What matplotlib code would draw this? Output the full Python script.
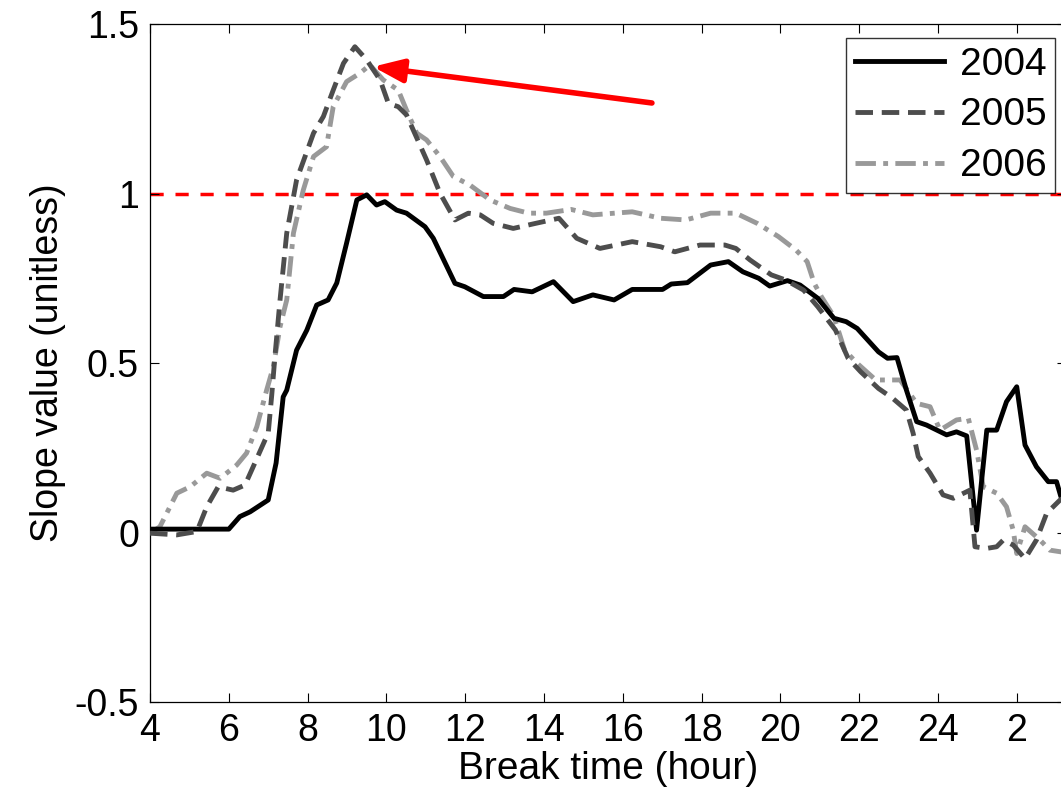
import matplotlib
matplotlib.use('Agg')
import matplotlib.pyplot as plt

plt.rcParams['font.family'] = ['Liberation Sans', 'DejaVu Sans']

# 2004 slope curve (hour, value)
x2004 = [4.0, 6.0, 6.28, 6.54, 7.0, 7.2, 7.38, 7.47, 7.72, 7.98, 8.23, 8.52, 8.74, 8.99, 9.25,
         9.50, 9.75, 9.96, 10.26, 10.51, 10.98, 11.19, 11.74, 11.99, 12.46, 12.97, 13.24, 13.70,
         14.24, 14.74, 15.24, 15.78, 16.24, 17.01, 17.23, 17.64, 18.23, 18.68, 19.05, 19.45,
         19.73, 20.18, 20.50, 20.95, 21.36, 21.67, 21.95, 22.49, 22.72, 22.96, 23.20, 23.46,
         23.71, 24.22, 24.47, 24.73, 24.98, 25.24, 25.49, 25.74, 26.0, 26.21, 26.50, 26.80,
         27.01, 27.12, 27.3]
y2004 = [0.01, 0.01, 0.047, 0.061, 0.096, 0.205, 0.40, 0.42, 0.538, 0.597, 0.671, 0.686, 0.736,
         0.854, 0.981, 0.996, 0.966, 0.976, 0.951, 0.942, 0.902, 0.868, 0.735, 0.725, 0.696,
         0.696, 0.717, 0.710, 0.740, 0.681, 0.701, 0.686, 0.717, 0.717, 0.733, 0.737, 0.789,
         0.799, 0.769, 0.750, 0.727, 0.743, 0.730, 0.691, 0.632, 0.622, 0.602, 0.533, 0.514,
         0.516, 0.420, 0.327, 0.317, 0.288, 0.297, 0.285, 0.007, 0.302, 0.302, 0.386, 0.430,
         0.258, 0.194, 0.150, 0.150, 0.106, 0.08]

# 2005 slope curve
x2005 = [4.0, 4.68, 5.19, 5.44, 5.73, 6.11, 6.41, 6.58, 6.92, 7.0, 7.09, 7.17, 7.30, 7.47, 7.72,
         8.15, 8.40, 8.65, 8.91, 9.20, 9.50, 9.84, 10.05, 10.30, 10.51, 11.02, 11.36, 11.74,
         12.08, 12.38, 12.71, 13.22, 13.79, 14.38, 14.83, 15.42, 16.24, 16.96, 17.32, 17.96,
         18.59, 18.87, 19.23, 19.77, 20.13, 20.59, 20.95, 21.40, 21.72, 22.04, 22.49, 22.85,
         23.20, 23.37, 23.50, 23.80, 24.13, 24.39, 24.81, 24.94, 25.23, 25.49, 25.66, 25.91,
         26.21, 26.50, 26.76, 27.10, 27.3]
y2005 = [-0.002, -0.007, 0.003, 0.076, 0.135, 0.125, 0.140, 0.184, 0.273, 0.293, 0.406, 0.519,
         0.686, 0.883, 1.040, 1.178, 1.227, 1.305, 1.384, 1.433, 1.394, 1.335, 1.266, 1.256,
         1.232, 1.099, 1.001, 0.922, 0.942, 0.937, 0.912, 0.897, 0.912, 0.927, 0.868, 0.838,
         0.858, 0.843, 0.828, 0.848, 0.848, 0.838, 0.804, 0.760, 0.745, 0.715, 0.666, 0.597,
         0.514, 0.474, 0.425, 0.396, 0.361, 0.293, 0.224, 0.175, 0.111, 0.101, 0.125, -0.042,
         -0.047, -0.042, -0.022, -0.037, -0.077, -0.022, 0.057, 0.096, 0.11]

# 2006 slope curve
x2006 = [4.0, 4.25, 4.68, 5.02, 5.44, 5.78, 6.20, 6.45, 6.71, 6.96, 7.13, 7.30, 7.47, 7.64, 7.89,
         8.15, 8.48, 8.65, 8.99, 9.33, 9.58, 9.92, 10.30, 10.51, 10.77, 11.02, 11.36, 11.70,
         12.12, 12.63, 13.14, 13.61, 14.06, 14.69, 15.24, 16.24, 16.96, 17.60, 18.23, 18.87,
         19.41, 19.95, 20.40, 20.68, 20.86, 21.04, 21.36, 21.63, 21.95, 22.42, 23.04, 23.46,
         23.80, 24.05, 24.47, 24.77, 24.98, 25.15, 25.49, 25.74, 25.91, 26.0, 26.21, 26.59,
         26.84, 27.12, 27.3]
y2006 = [-0.002, 0.017, 0.116, 0.135, 0.175, 0.160, 0.199, 0.234, 0.312, 0.420, 0.489, 0.607,
         0.686, 0.883, 1.010, 1.109, 1.138, 1.256, 1.330, 1.355, 1.379, 1.335, 1.305, 1.246,
         1.178, 1.158, 1.109, 1.050, 1.025, 0.981, 0.956, 0.942, 0.942, 0.953, 0.937, 0.946,
         0.927, 0.922, 0.942, 0.942, 0.912, 0.873, 0.833, 0.799, 0.735, 0.696, 0.637, 0.538,
         0.499, 0.450, 0.450, 0.381, 0.371, 0.302, 0.332, 0.337, 0.243, 0.135, 0.116, 0.076,
         0.007, -0.062, 0.017, -0.022, -0.052, -0.057, -0.057]

xticks = [4, 6, 8, 10, 12, 14, 16, 18, 20, 22, 24, 26]
xtick_labels = ['4', '6', '8', '10', '12', '14', '16', '18', '20', '22', '24', '2']
yticks = [-0.5, 0, 0.5, 1, 1.5]
ytick_labels = ['-0.5', '0', '0.5', '1', '1.5']

threshold = 1.0
arrow_tail = (16.74, 1.267)
arrow_tip = (9.66, 1.374)

fig = plt.figure(figsize=(10.61, 7.92), dpi=100)
ax = fig.add_axes([0.1414, 0.1136, 0.8633, 0.8561])

ax.axhline(threshold, color='red', lw=2.5, dashes=(3.8, 3.4), zorder=1)
ax.plot(x2004, y2004, color='black', lw=3.5, label='2004', zorder=3)
ax.plot(x2005, y2005, color='#4d4d4d', lw=3.5, dashes=(3.6, 1.8), label='2005', zorder=3)
ax.plot(x2006, y2006, color='#999999', lw=3.5, dashes=(4.2, 1.5, 1.0, 1.5), label='2006', zorder=2)

ax.annotate('', xy=arrow_tip, xytext=arrow_tail,
            arrowprops=dict(arrowstyle='-|>,head_length=0.9,head_width=0.35',
                            color='red', lw=4, shrinkA=0, shrinkB=0,
                            mutation_scale=20), zorder=4)

ax.set_xlim(4, 27.25)
ax.set_ylim(-0.5, 1.5)
ax.set_xticks(xticks)
ax.set_xticklabels(xtick_labels)
ax.set_yticks(yticks)
ax.set_yticklabels(ytick_labels)
ax.tick_params(direction='in', length=6.5, width=0.8, top=True, right=True,
               labelsize=27, pad=8)
for s in ax.spines.values():
    s.set_linewidth(0.9)

ax.set_xlabel('Break time (hour)', fontsize=28, labelpad=1)
ax.set_ylabel('Slope value (unitless)', fontsize=27, labelpad=6)

leg = ax.legend(loc='upper right', bbox_to_anchor=(1055 / 1061, 1 - 38 / 792),
                bbox_transform=fig.transFigure, fontsize=28, frameon=True,
                fancybox=False, handlelength=2.3, borderaxespad=0,
                borderpad=0.22, labelspacing=0.38, handletextpad=0.4)
leg.get_frame().set_edgecolor('black')
leg.get_frame().set_linewidth(1.0)

fig.savefig('out.png', dpi=100)
